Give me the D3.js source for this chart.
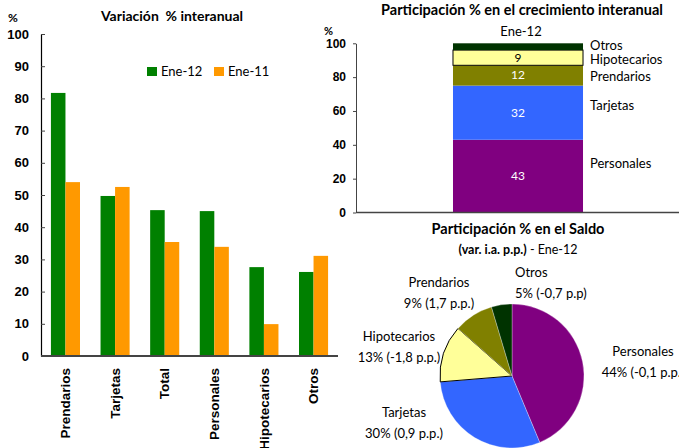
<!DOCTYPE html>
<html><head><meta charset="utf-8">
<script src="https://cdn.jsdelivr.net/npm/d3@7"></script>
<style>
html,body{margin:0;padding:0;background:#fff;}
svg{display:block;font-family:Lato,"Open Sans",sans-serif;}
text{white-space:pre;}
</style></head>
<body>
<script>
// ---- Data ----
const categories = ["Prendarios","Tarjetas","Total","Personales","Hipotecarios","Otros"];
const seriesNames = ["Ene-12","Ene-11"];
const ene12 = [81.7, 49.7, 45.3, 45.0, 27.6, 26.1];
const ene11 = [54.0, 52.5, 35.4, 33.9, 9.9, 31.1];
const leftTicks = [0,10,20,30,40,50,60,70,80,90,100];

const stackNames = ["Personales","Tarjetas","Prendarios","Hipotecarios","Otros"];
const stackValues = [43, 32, 12, 9, 4];
const stackLabels = ["43","32","12","9",""];
const stackCategory = ["Ene-12"];
const rightTicks = [0,20,40,60,80,100];

const pieNames = ["Personales","Tarjetas","Hipotecarios","Prendarios","Otros"];
const pieValues = [43.7, 30.0, 12.8, 8.9, 4.6];
const pieShares = ["44%","30%","13%","9%","5%"];
const pieChanges = ["(-0,1 p.p.)","(0,9 p.p.)","(-1,8 p.p.)","(1,7 p.p.)","(-0,7 p.p)"];

// ---- Styles ----
const seriesColors = ["#008000","#FF9900"];
const catColors = {Personales:"#800080",Tarjetas:"#3366FF",Prendarios:"#808000",Hipotecarios:"#FFFF99",Otros:"#003300"};

const W = 679, H = 448;
const svg = d3.select("body").append("svg").attr("width",W).attr("height",H);
svg.append("rect").attr("width",W).attr("height",H).attr("fill","#fff");

// ================= Left chart =================
const L = {x0:41, x1:338, y0:356, y1:34};
const x = d3.scaleBand().domain(categories).range([L.x0,L.x1]).paddingInner(0.414).paddingOuter(0.2);
const xs = d3.scaleBand().domain(seriesNames).range([0,x.bandwidth()]);
const y = d3.scaleLinear().domain([0,100]).range([L.y0,L.y1]);

const gL = svg.append("g");
const rows = categories.map((c,i)=>({cat:c, vals:[ene12[i],ene11[i]]}));
gL.selectAll("g.cat").data(rows).join("g")
  .attr("transform",d=>`translate(${x(d.cat)},0)`)
  .selectAll("rect").data(d=>d.vals.map((v,j)=>({s:seriesNames[j],v,j}))).join("rect")
  .attr("x",d=>xs(d.s)).attr("width",xs.bandwidth())
  .attr("y",d=>y(d.v)).attr("height",d=>y(0)-y(d.v))
  .attr("fill",d=>seriesColors[d.j]);

const yAxL = gL.append("g").attr("transform",`translate(${L.x0},0)`)
  .call(d3.axisLeft(y).tickValues(leftTicks).tickSizeInner(-4).tickSizeOuter(0).tickPadding(12));
yAxL.select(".domain").attr("stroke","#000").attr("stroke-width",1.2);
yAxL.selectAll(".tick line").attr("stroke","#444");
yAxL.selectAll(".tick text").attr("font-size",13).attr("font-weight","bold").attr("fill","#000");

gL.append("line").attr("x1",L.x0).attr("x2",L.x1).attr("y1",L.y0).attr("y2",L.y0)
  .attr("stroke","#444").attr("stroke-width",2);

const xAxL = gL.append("g").attr("transform",`translate(0,${L.y0})`)
  .call(d3.axisBottom(x).tickSize(0));
xAxL.select(".domain").remove();
xAxL.selectAll(".tick text")
  .attr("transform","rotate(-90)").attr("text-anchor","end")
  .attr("x",-12).attr("y",0).attr("dy","0.35em")
  .attr("font-size",13.5).attr("font-weight","bold").attr("fill","#000");

gL.append("text").attr("x",172).attr("y",21).attr("text-anchor","middle")
  .attr("font-size",14).attr("font-weight","bold").text("Variación  % interanual");
gL.append("text").attr("x",8).attr("y",22).attr("font-size",12).attr("font-weight","bold").text("%");

const leg = gL.append("g");
seriesNames.forEach((s,i)=>{
  const lx = 147 + i*67;
  leg.append("rect").attr("x",lx).attr("y",67).attr("width",10).attr("height",9).attr("fill",seriesColors[i]);
  leg.append("text").attr("x",lx+14).attr("y",76).attr("font-size",13).text(s);
});

svg.append("text").attr("x",2).attr("y",456).attr("font-size",11).attr("fill","#444").text("Fuente: BCRA");

// ================= Right top: stacked =================
const R = {x0:356, x1:680, y0:212.5, y1:43.3};
const xr = d3.scaleBand().domain(stackCategory).range([R.x0,R.x1]).paddingInner(0).paddingOuter(0.746);
const yr = d3.scaleLinear().domain([0,100]).range([R.y0,R.y1]);
const gR = svg.append("g");

const stackRow = {}; stackNames.forEach((n,i)=>stackRow[n]=stackValues[i]);
const stacked = d3.stack().keys(stackNames)([stackRow]);
const segs = stacked.map((s,i)=>({name:s.key, y0:s[0][0], y1:s[0][1], label:stackLabels[i]}));

gR.selectAll("rect.seg").data(segs).join("rect")
  .attr("x",xr("Ene-12")).attr("width",xr.bandwidth())
  .attr("y",d=>yr(d.y1)).attr("height",d=>yr(d.y0)-yr(d.y1))
  .attr("fill",d=>catColors[d.name])
  .attr("stroke",d=>d.name==="Hipotecarios"?"#000":"none").attr("stroke-width",1);

gR.selectAll("text.in").data(segs.filter(d=>d.label)).join("text")
  .attr("x",xr("Ene-12")+xr.bandwidth()/2).attr("y",d=>yr((d.y0+d.y1)/2)+4)
  .attr("text-anchor","middle").attr("font-size",12)
  .attr("fill",d=>d.name==="Hipotecarios"?"#000":"#fff").text(d=>d.label);

const sideDy = {Personales:-8, Tarjetas:-3, Prendarios:6, Hipotecarios:6.5, Otros:3};
gR.selectAll("text.side").data(segs).join("text")
  .attr("x",590).attr("y",d=>yr((d.y0+d.y1)/2)+sideDy[d.name])
  .attr("font-size",13).attr("fill","#000").text(d=>d.name);

const yAxR = gR.append("g").attr("transform",`translate(${R.x0},0)`)
  .call(d3.axisLeft(yr).tickValues(rightTicks).tickSizeInner(3).tickSizeOuter(0).tickPadding(7));
yAxR.select(".domain").attr("stroke","#444");
yAxR.selectAll(".tick line").attr("stroke","#444");
yAxR.selectAll(".tick text").attr("font-size",12).attr("font-weight","bold").attr("fill","#000");
gR.append("line").attr("x1",R.x0).attr("x2",R.x1).attr("y1",R.y0).attr("y2",R.y0)
  .attr("stroke","#444").attr("stroke-width",1.5);

gR.append("text").attr("x",522).attr("y",15).attr("text-anchor","middle")
  .attr("font-size",14.5).attr("font-weight","bold").text("Participación % en el crecimiento interanual");
gR.append("text").attr("x",521).attr("y",36).attr("text-anchor","middle")
  .attr("font-size",13).text(stackCategory[0]);
gR.append("text").attr("x",324).attr("y",35).attr("font-size",11).attr("font-weight","bold").text("%");

// ================= Right bottom: pie =================
const P = {cx:512, cy:376, r:72};
const gP = svg.append("g").attr("transform",`translate(${P.cx},${P.cy})`);
const pieData = pieNames.map((n,i)=>({name:n, v:pieValues[i], share:pieShares[i], chg:pieChanges[i]}));
const arcs = d3.pie().sort(null).value(d=>d.v)(pieData);
const arc = d3.arc().innerRadius(0).outerRadius(P.r);
gP.selectAll("path").data(arcs).join("path")
  .attr("d",arc).attr("fill",d=>catColors[d.data.name])
  .attr("stroke",d=>d.data.name==="Hipotecarios"?"#000":"#fff")
  .attr("stroke-width",d=>d.data.name==="Hipotecarios"?1:0.3);

const pieLabelPos = {
  Personales:{x:643,y:356,a:"middle"},
  Tarjetas:{x:404,y:417,a:"middle"},
  Hipotecarios:{x:399,y:341,a:"middle"},
  Prendarios:{x:439,y:287,a:"middle"},
  Otros:{x:515,y:277,a:"start"}
};
const pl = svg.append("g");
pieData.forEach(d=>{
  const p = pieLabelPos[d.name];
  const t = pl.append("text").attr("x",p.x).attr("y",p.y).attr("text-anchor",p.a).attr("font-size",13);
  t.append("tspan").attr("x",p.x).text(d.name);
  t.append("tspan").attr("x",p.x).attr("dy",21).text(d.share+" "+d.chg);
});

const pt = svg.append("g");
pt.append("text").attr("x",518).attr("y",234).attr("text-anchor","middle")
  .attr("font-size",14.5).attr("font-weight","bold").text("Participación % en el Saldo");
const t2 = pt.append("text").attr("x",518).attr("y",254).attr("text-anchor","middle").attr("font-size",12.5);
t2.append("tspan").attr("font-weight","bold").text("(var. i.a. p.p.)");
t2.append("tspan").text(" - Ene-12");
</script>
</body></html>
